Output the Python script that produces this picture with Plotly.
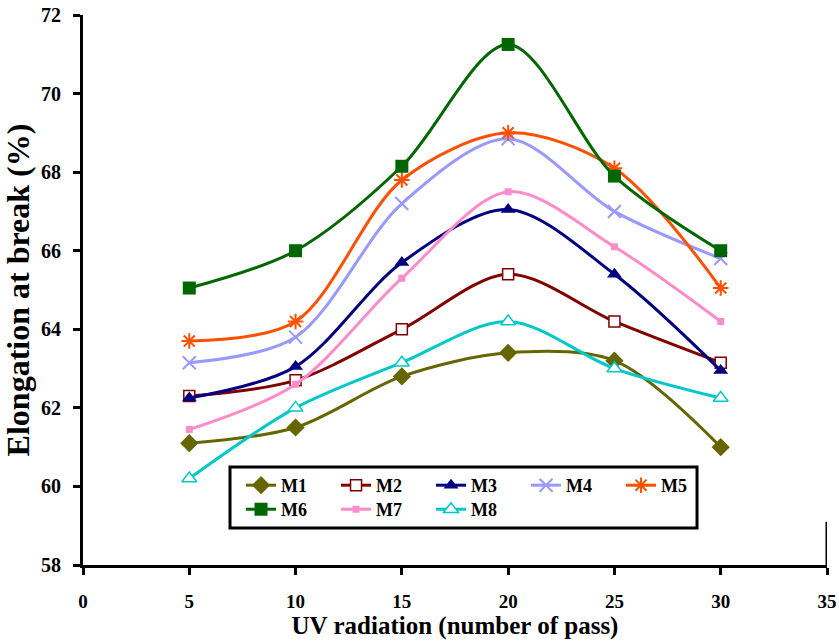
import plotly.graph_objects as go

passes = [5, 10, 15, 20, 25, 30]
M1 = [61.1, 61.5, 62.8, 63.4, 63.2, 61.0]
M2 = [62.3, 62.7, 64.0, 65.4, 64.2, 63.15]
M3 = [62.25, 63.05, 65.7, 67.05, 65.4, 62.95]
M4 = [63.15, 63.8, 67.2, 68.85, 67.0, 65.8]
M5 = [63.7, 64.2, 67.8, 69.0, 68.1, 65.05]
M6 = [65.05, 66.0, 68.15, 71.25, 67.9, 66.0]
M7 = [61.45, 62.6, 65.3, 67.5, 66.1, 64.2]
M8 = [60.2, 62.0, 63.15, 64.2, 63.0, 62.25]

series = [
    ("M1", M1, "rgb(102,102,0)", "diamond", 14, 0, "legend"),
    ("M2", M2, "rgb(128,0,0)", "square-open", 11, 1.5, "legend"),
    ("M3", M3, "rgb(0,0,128)", "triangle-up", 13, 0, "legend"),
    ("M4", M4, "rgb(153,153,255)", "x-thin-open", 13, 2, "legend"),
    ("M5", M5, "rgb(255,80,0)", "asterisk-open", 13, 2, "legend"),
    ("M6", M6, "rgb(0,102,0)", "square", 13, 0, "legend2"),
    ("M7", M7, "rgb(255,140,200)", "square", 7, 0, "legend2"),
    ("M8", M8, "rgb(0,200,200)", "triangle-up-open", 13, 1.5, "legend2"),
]

fig = go.Figure()
for name, vals, color, sym, size, lw, leg in series:
    mk = dict(symbol=sym, size=size, color=color)
    if sym.endswith("open"):
        mk["line"] = dict(color=color, width=lw)
        if sym in ("square-open", "triangle-up-open"):
            mk["symbol"] = sym.replace("-open", "")
            mk["color"] = "white"
    fig.add_trace(go.Scatter(
        x=passes, y=vals, name=name, mode="lines+markers", legend=leg,
        line=dict(color=color, width=3, shape="spline", smoothing=0.9),
        marker=mk,
    ))

font_family = "Liberation Serif, Times New Roman, serif"
leg_font = dict(family=font_family, size=18, color="black", weight="bold")
leg_common = dict(
    orientation="h", xanchor="left", yanchor="top",
    entrywidth=50, entrywidthmode="pixels",
    borderwidth=0, bgcolor="rgba(0,0,0,0)",
    font=leg_font, itemwidth=30, tracegroupgap=0,
)
fig.update_layout(
    width=839, height=642,
    margin=dict(l=83, r=12, t=15, b=77, autoexpand=False),
    plot_bgcolor="white", paper_bgcolor="white",
    font=dict(family=font_family, color="black"),
    showlegend=True,
    legend=dict(x=0.2124, y=0.1782, **leg_common),
    legend2=dict(x=0.2124, y=0.1345, **leg_common),
    shapes=[
        dict(type="rect", xref="paper", yref="paper",
             x0=0.1976, x1=0.8253, y0=0.0673, y1=0.1782,
             line=dict(color="black", width=3), fillcolor="white", layer="below"),
        dict(type="line", xref="x", yref="y", x0=35, x1=35, y0=58, y1=59.1,
             line=dict(color="black", width=3), layer="above"),
    ],
)
fig.update_xaxes(
    range=[0, 35], tickvals=[0, 5, 10, 15, 20, 25, 30, 35],
    showline=True, linecolor="black", linewidth=3,
    ticks="outside", ticklen=7, tickwidth=3, tickcolor="black",
    showgrid=False, zeroline=False, automargin=False,
    ticklabelstandoff=10,
    tickfont=dict(family=font_family, size=19, color="black", weight="bold"),
    title=dict(text="UV radiation (number of pass)", standoff=3,
               font=dict(family=font_family, size=25, color="black", weight="bold")),
)
fig.update_yaxes(
    range=[58, 72], tickvals=[58, 60, 62, 64, 66, 68, 70, 72],
    showline=True, linecolor="black", linewidth=3,
    ticks="outside", ticklen=7, tickwidth=3, tickcolor="black",
    showgrid=False, zeroline=False, automargin=False,
    ticklabelstandoff=8,
    tickfont=dict(family=font_family, size=20, color="black", weight="bold"),
    title=dict(text="Elongation at break (%)", standoff=4,
               font=dict(family=font_family, size=32, color="black", weight="bold")),
)
fig.write_html("out.html", post_script="document.body.style.margin='0';",
               config={"displayModeBar": False})
